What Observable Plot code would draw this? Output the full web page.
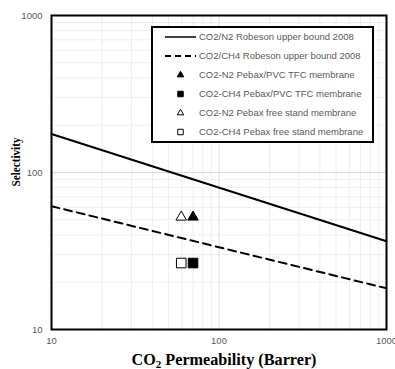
<!DOCTYPE html>
<html>
<head>
<meta charset="utf-8">
<script src="https://cdn.jsdelivr.net/npm/d3@7"></script>
<script src="https://cdn.jsdelivr.net/npm/@observablehq/plot@0.6"></script>
<style>
  html, body { margin: 0; padding: 0; background: #fff; }
  #chart { width: 395px; height: 369px; overflow: hidden; }
</style>
</head>
<body>
<div id="chart"></div>
<script>
// ---- data ----
const boundPermeability = [10, 1000];
const robesonN2 = [176, 36.5];
const robesonCH4 = [61, 18.3];

const pointNames = [
  "CO2-N2 Pebax/PVC TFC membrane",
  "CO2-CH4 Pebax/PVC TFC membrane",
  "CO2-N2 Pebax free stand membrane",
  "CO2-CH4 Pebax free stand membrane"
];
const pointPermeability = [70, 70, 59.5, 59.5];
const pointSelectivity = [52, 26.5, 52, 26.5];
const pointSymbol = ["triangle", "square", "triangle", "square"];
const pointFilled = [true, true, false, false];

const lineNames = ["CO2/N2 Robeson upper bound 2008", "CO2/CH4 Robeson upper bound 2008"];

const tickValues = [10, 100, 1000];
const tickLabels = ["10", "100", "1000"];
const gridValues = [20, 30, 40, 50, 60, 70, 80, 90, 100, 200, 300, 400, 500, 600, 700, 800, 900];

// ---- tables ----
const n2Line = boundPermeability.map((p, i) => ({p, s: robesonN2[i]}));
const ch4Line = boundPermeability.map((p, i) => ({p, s: robesonCH4[i]}));
const points = pointNames.map((name, i) => ({
  name, p: pointPermeability[i], s: pointSelectivity[i],
  symbol: pointSymbol[i], filled: pointFilled[i]
}));

const labelOf = v => tickLabels[tickValues.indexOf(v)];

const plot = Plot.plot({
  width: 395,
  height: 369,
  marginLeft: 51,
  marginRight: 9,
  marginTop: 15,
  marginBottom: 40,
  style: {fontFamily: "Liberation Sans, Arial, sans-serif", fontSize: "9.5px", background: "#fff"},
  x: {type: "log", domain: [10, 1000]},
  y: {type: "log", domain: [10, 1000]},
  marks: [
    Plot.ruleX(gridValues, {stroke: d => d === 100 ? "#dadada" : "#eeeeee", strokeWidth: 1}),
    Plot.ruleY(gridValues, {stroke: d => d === 100 ? "#dadada" : "#eeeeee", strokeWidth: 1}),
    Plot.line(n2Line, {x: "p", y: "s", stroke: "#000", strokeWidth: 2}),
    Plot.line(ch4Line, {x: "p", y: "s", stroke: "#000", strokeWidth: 2, strokeDasharray: "8,5"}),
    Plot.dot(points.filter(d => d.symbol === "triangle"), {
      x: "p", y: "s", symbol: "triangle", r: 3.9,
      fill: d => d.filled ? "#000" : "#fff", stroke: "#000", strokeWidth: 1
    }),
    Plot.dot(points.filter(d => d.symbol === "square"), {
      x: "p", y: "s", symbol: "square", r: 5.4,
      fill: d => d.filled ? "#000" : "#fff", stroke: "#000", strokeWidth: 1
    }),
    Plot.frame({stroke: "#000", strokeWidth: 2}),
    Plot.axisX({ticks: tickValues, tickFormat: labelOf, tickSize: 0, tickPadding: 8, label: null, fill: "#595959"}),
    Plot.axisY({ticks: tickValues, tickFormat: labelOf, tickSize: 0, tickPadding: 9, label: null, fill: "#595959"})
  ]
});

document.getElementById("chart").appendChild(plot);

// ---- axis titles ----
const svg = d3.select(plot);
const xt = svg.append("text")
  .attr("x", 224).attr("y", 365)
  .attr("text-anchor", "middle")
  .attr("font-family", "Liberation Serif, Times New Roman, serif")
  .attr("font-weight", "bold")
  .attr("font-size", 16.2)
  .attr("fill", "#000");
xt.append("tspan").text("CO");
xt.append("tspan").attr("font-size", 11).attr("dy", 3).text("2");
xt.append("tspan").attr("dy", -3).text(" Permeability (Barrer)");

svg.append("text")
  .attr("transform", "translate(20,162) rotate(-90)")
  .attr("text-anchor", "middle")
  .attr("font-family", "Liberation Serif, Times New Roman, serif")
  .attr("font-weight", "bold")
  .attr("font-size", 13)
  .attr("textLength", 49)
  .attr("lengthAdjust", "spacingAndGlyphs")
  .attr("fill", "#000")
  .text("Selectivity");

// ---- legend ----
const lg = svg.append("g").attr("text-anchor", "start");
lg.append("rect").attr("x", 152).attr("y", 27).attr("width", 221).attr("height", 115)
  .attr("fill", "#fff").attr("stroke", "#000").attr("stroke-width", 2);
const rowY = i => 37 + i * 19;
const entries = [
  {name: lineNames[0], kind: "solid"},
  {name: lineNames[1], kind: "dash"},
  ...points.map(d => ({name: d.name, kind: d.symbol, filled: d.filled}))
];
entries.forEach((e, i) => {
  const y = rowY(i);
  if (e.kind === "solid" || e.kind === "dash") {
    lg.append("line").attr("x1", 165).attr("x2", 196).attr("y1", y).attr("y2", y)
      .attr("stroke", "#000").attr("stroke-width", e.kind === "dash" ? 2 : 1.5)
      .attr("stroke-dasharray", e.kind === "dash" ? "6,4" : null);
  } else {
    const sym = d3.symbol().type(e.kind === "triangle" ? d3.symbolTriangle : d3.symbolSquare)
      .size(e.kind === "triangle" ? 18 : 30);
    lg.append("path").attr("d", sym()).attr("transform", `translate(180.5,${y})`)
      .attr("fill", e.filled ? "#000" : "#fff").attr("stroke", "#000").attr("stroke-width", 1);
  }
  lg.append("text").attr("x", 199).attr("y", y).attr("dy", "0.35em")
    .attr("text-anchor", "start")
    .attr("fill", "#595959").attr("font-size", 9.5).text(e.name);
});
</script>
</body>
</html>
